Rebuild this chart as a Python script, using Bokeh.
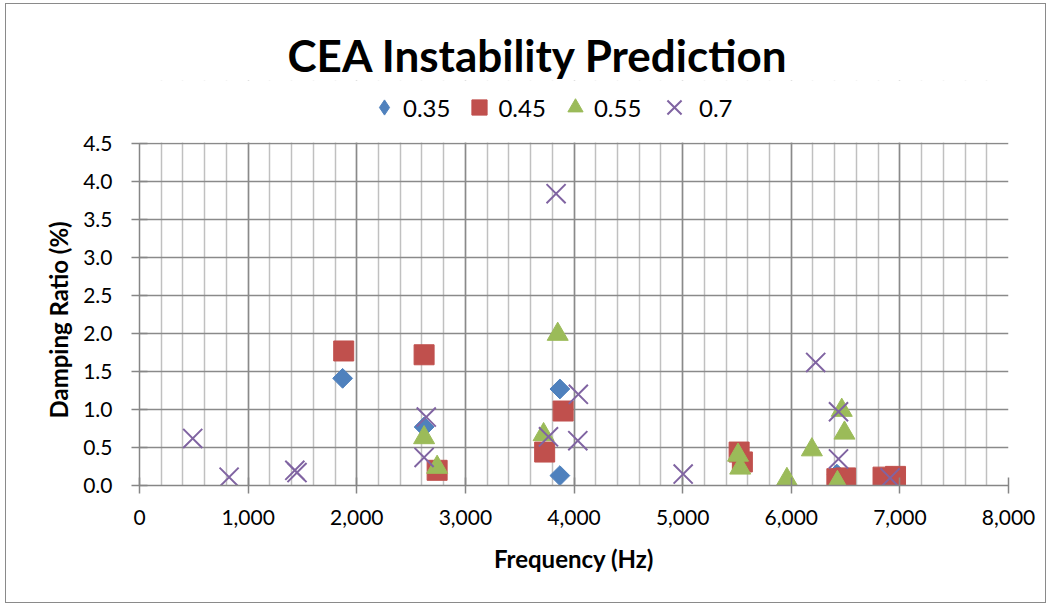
import math
from bokeh.plotting import figure
from bokeh.models import (FixedTicker, NumeralTickFormatter, Legend, LegendItem, Range1d,
                          BoxAnnotation, Title)
from bokeh.embed import file_html
from bokeh.resources import INLINE

# ---- data ----
series_names = ["0.35", "0.45", "0.55", "0.7"]

x_035 = [1870, 2620, 3870, 3870, 6420]
y_035 = [1.41, 0.77, 1.27, 0.13, 0.15]

x_045 = [1880, 2620, 2740, 3730, 3900, 5520, 5550, 6420, 6500, 6845, 6960]
y_045 = [1.77, 1.72, 0.20, 0.44, 0.98, 0.44, 0.31, 0.09, 0.10, 0.11, 0.12]

x_055 = [2620, 2740, 3720, 3850, 5510, 5530, 5960, 6190, 6465, 6490, 6425]
y_055 = [0.63, 0.24, 0.67, 1.99, 0.40, 0.23, 0.08, 0.47, 0.99, 0.69, 0.04]

x_070 = [490, 825, 1430, 1450, 2640, 2620, 3835, 4040, 3765, 4035, 5005, 6225, 6435, 6435, 6910]
y_070 = [0.62, 0.11, 0.20, 0.17, 0.90, 0.37, 3.84, 1.20, 0.64, 0.59, 0.15, 1.62, 0.97, 0.35, 0.10]

x_ticks = [0, 1000, 2000, 3000, 4000, 5000, 6000, 7000, 8000]
x_minor = [v for v in range(0, 8001, 200)]
y_ticks = [0.0, 0.5, 1.0, 1.5, 2.0, 2.5, 3.0, 3.5, 4.0, 4.5]

FONT = "Lato"

# ---- layout geometry (pixels) ----
CANVAS_TOP = 4          # canvas starts below 3px margin + 1px border
FRAME_TOP = 80          # frame extends above the data area to host the legend
DATA_TOP = 143          # pixel row of y = 4.5
DATA_BOTTOM = 485       # pixel row of y = 0
LEGEND_CY = 107         # legend row centre
y_max = y_ticks[-1]
y_end = y_max * (DATA_BOTTOM - FRAME_TOP) / (DATA_BOTTOM - DATA_TOP)

p = figure(width=1041, height=600, output_backend="svg", toolbar_location=None,
           x_range=Range1d(0, 8000), y_range=Range1d(0, y_end),
           min_border_left=133, min_border_right=39, min_border_top=FRAME_TOP - CANVAS_TOP,
           min_border_bottom=600 - (DATA_BOTTOM - CANVAS_TOP),
           styles={"border": "1px solid #8a8a8a", "margin-left": "5px", "margin-top": "3px"})

p.title.text = "CEA Instability Prediction"
p.title.text_font = FONT
p.title.text_font_size = "44px"
p.title.text_font_style = "bold"
p.title.align = "left"
p.title.text_color = "#000000"
p.title.offset = 148
p.title.standoff = 0

p.outline_line_color = None
p.background_fill_color = "white"
p.border_fill_color = "white"

# axes
xa = p.xaxis[0]
xa.ticker = FixedTicker(ticks=x_ticks, minor_ticks=x_minor)
xa.formatter = NumeralTickFormatter(format="0,0")
ya = p.yaxis[0]
ya.ticker = FixedTicker(ticks=y_ticks)
ya.formatter = NumeralTickFormatter(format="0.0")
ya.bounds = (0, y_max)

for ax in (xa, ya):
    ax.axis_line_color = "#868686"
    ax.axis_line_width = 1.5
    ax.major_tick_line_color = "#868686"
    ax.major_tick_line_width = 1.5
    ax.major_tick_out = 8
    ax.major_tick_in = 8
    ax.minor_tick_line_color = None
    ax.major_label_text_font = FONT
    ax.major_label_text_font_size = "21px"
    ax.major_label_text_color = "#000000"
    ax.axis_label_text_font = FONT
    ax.axis_label_text_font_size = "24px"
    ax.axis_label_text_font_style = "bold"
    ax.axis_label_text_color = "#000000"

xa.axis_label = "Frequency (Hz)"
xa.major_label_standoff = 16
xa.axis_label_standoff = 16
ya.major_label_standoff = 19

# y-axis title placed as a side title so it centres on the data area, not the frame
ytitle = Title(text="Damping Ratio (%)", align="left", offset=DATA_BOTTOM - 418,
               text_font=FONT, text_font_size="24px", text_font_style="bold",
               text_color="#000000", standoff=15)
p.add_layout(ytitle, "left")

p.xgrid.grid_line_color = "#8a8a8a"
p.xgrid.grid_line_width = 1.5
p.xgrid.minor_grid_line_color = "#c0c0c0"
p.xgrid.minor_grid_line_width = 1.5
p.ygrid.grid_line_color = "#8a8a8a"
p.ygrid.grid_line_width = 1.5

# white mask over the frame area above the data region (legend lives there)
mask = BoxAnnotation(bottom=y_max + 0.012, fill_color="white", fill_alpha=1.0,
                     line_color=None, level="underlay")
p.add_layout(mask)

# diamond-shaped legend proxy for series 0.35, drawn beneath the visible markers
r1_leg = p.scatter(x_035, y_035, marker="diamond", size=10,
                   fill_color="#4F81BD", line_color="#4F81BD")
r1 = p.scatter(x_035, y_035, marker="square", angle=math.pi / 4, size=14,
               fill_color="#4F81BD", line_color="#4F81BD")
r2 = p.scatter(x_045, y_045, marker="square", size=20,
               fill_color="#C0504D", line_color="#C0504D")
r3 = p.scatter(x_055, y_055, marker="triangle", size=21,
               fill_color="#9BBB59", line_color="#9BBB59")
r4 = p.scatter(x_070, y_070, marker="x", size=27,
               line_color="#8064A2", line_width=2)

common = dict(orientation="horizontal", padding=0, margin=0, border_line_color=None,
              background_fill_alpha=0, label_text_font=FONT, label_text_font_size="24px",
              label_text_color="#000000")

legend1 = Legend(items=[LegendItem(label=n, renderers=[r])
                        for n, r in zip(series_names[:3], [r1_leg, r2, r3])],
                 location=(226, DATA_BOTTOM - LEGEND_CY - 19),
                 glyph_width=38, glyph_height=38, label_standoff=0, spacing=10, **common)
p.add_layout(legend1, "center")

legend2 = Legend(items=[LegendItem(label=series_names[3], renderers=[r4])],
                 location=(674 - 25 - 139, DATA_BOTTOM - LEGEND_CY - 25),
                 glyph_width=50, glyph_height=50, label_standoff=0, **common)
p.add_layout(legend2, "center")

open("out.html", "w").write(file_html(p, INLINE))
